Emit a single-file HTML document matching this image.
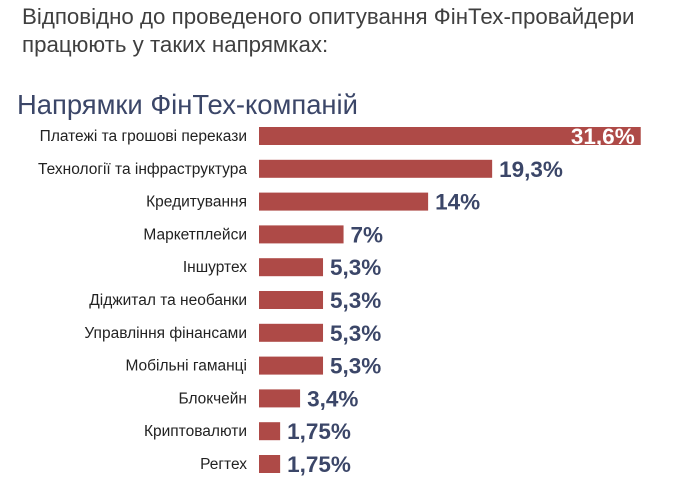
<!DOCTYPE html>
<html><head><meta charset="utf-8">
<style>
body{margin:0;background:#fff;width:680px;height:495px;overflow:hidden;font-family:"Liberation Sans",sans-serif}
#intro{position:absolute;left:22px;top:3px;font-size:22.3px;line-height:28px;color:#3f3f3f}
#title{position:absolute;left:17px;top:89px;font-size:27.4px;color:#3b4668}
svg{position:absolute;left:0;top:0}
</style></head><body>
<div id="intro">Відповідно до проведеного опитування ФінТех-провайдери<br>працюють у таких напрямках:</div>
<div id="title">Напрямки ФінТех-компаній</div>
<svg id="chart" width="680" height="495"></svg>
<script>
const categories=["Платежі та грошові перекази","Технології та інфраструктура","Кредитування","Маркетплейси","Іншуртех","Діджитал та необанки","Управління фінансами","Мобільні гаманці","Блокчейн","Криптовалюти","Регтех"];
const values=[31.6,19.3,14,7,5.3,5.3,5.3,5.3,3.4,1.75,1.75];
const valueLabels=["31,6%","19,3%","14%","7%","5,3%","5,3%","5,3%","5,3%","3,4%","1,75%","1,75%"];
const svg=document.getElementById('chart');
const NS="http://www.w3.org/2000/svg";
const x0=259, pxPer=12.08, y0=136, step=32.8, bh=18;
const xs=v=>x0+v*pxPer;
const ys=i=>y0+i*step;
categories.forEach((c,i)=>{
  const cy=ys(i);
  const t=document.createElementNS(NS,'text');
  
  
  t.setAttribute('x',247);t.setAttribute('y',cy+5);t.setAttribute('text-anchor','end');
  t.setAttribute('font-size','15.5');t.setAttribute('fill','#222');t.textContent=c;svg.appendChild(t);
  const r=document.createElementNS(NS,'rect');
  
  
  r.setAttribute('x',x0);r.setAttribute('y',cy-bh/2);r.setAttribute('width',xs(values[i])-x0);r.setAttribute('height',bh);
  r.setAttribute('fill','#ae4a47');svg.appendChild(r);
  const v=document.createElementNS(NS,'text');
  
  
  const inside=i===0;
  v.setAttribute('x',inside?xs(values[i])-6:xs(values[i])+7);
  v.setAttribute('text-anchor',inside?'end':'start');
  v.setAttribute('y',cy+8);v.setAttribute('font-size','22.5');v.setAttribute('font-weight','bold');
  v.setAttribute('fill',inside?'#fff':'#3b4668');v.textContent=valueLabels[i];svg.appendChild(v);
});
</script>
</body></html>
